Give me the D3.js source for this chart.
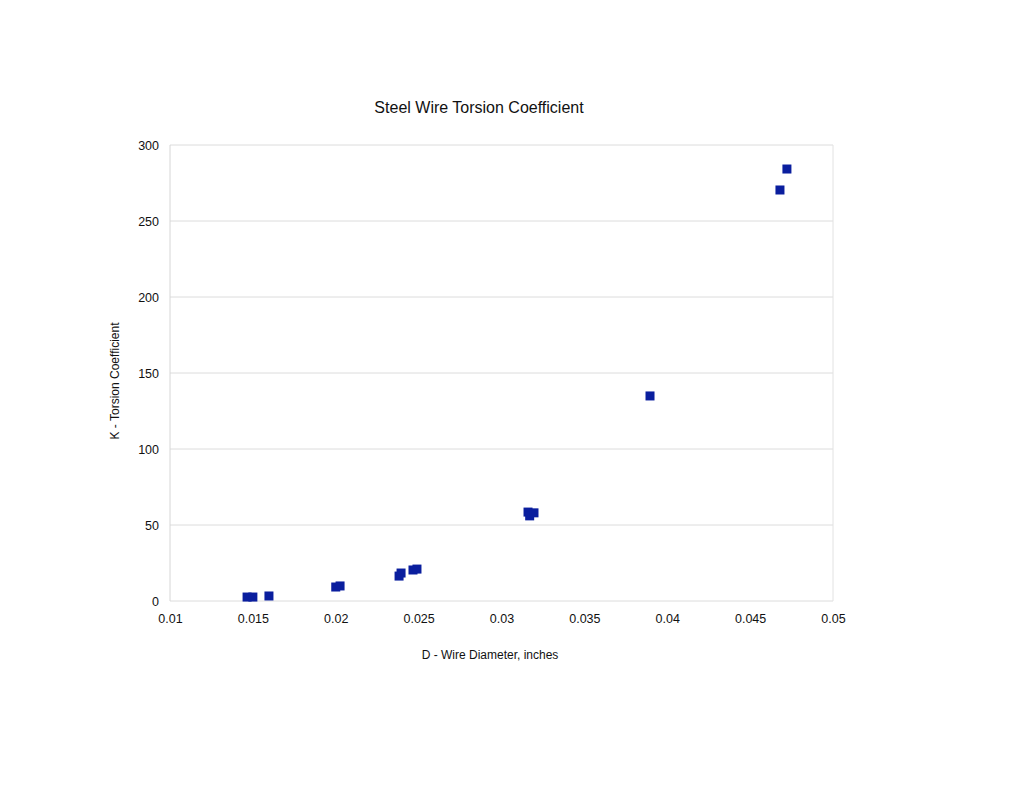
<!DOCTYPE html>
<html>
<head>
<meta charset="utf-8">
<script src="https://cdn.jsdelivr.net/npm/d3@7"></script>
<style>
  body { margin: 0; background: #fff; }
  text { font-family: "Liberation Sans", Arial, sans-serif; fill: #111; }
</style>
</head>
<body>
<div id="chart"></div>
<script>
// wire diameter (inches) and torsion coefficient readings
const diameters = [0.01465, 0.0150, 0.01597, 0.0200, 0.02026, 0.02382, 0.02394, 0.02466, 0.0249,
  0.0316, 0.0317, 0.03196, 0.03896, 0.0468, 0.04722];
const coefficients = [2.6, 2.6, 3.3, 9.2, 9.9, 16.4, 18.4, 20.4, 21,
  58.5, 56, 58, 134.9, 270.4, 284.2];
const xTicks = [0.01, 0.015, 0.02, 0.025, 0.03, 0.035, 0.04, 0.045, 0.05];
const yTicks = [0, 50, 100, 150, 200, 250, 300];

const width = 1024;
const height = 791;
const plot = { left: 170, right: 833, top: 145, bottom: 601 };
const markerSize = 9;

const svg = d3.select("#chart")
  .append("svg")
  .attr("width", width)
  .attr("height", height);

const x = d3.scaleLinear().domain([0.01, 0.05]).range([plot.left, plot.right]);
const y = d3.scaleLinear().domain([0, 300]).range([plot.bottom, plot.top]);

// gridlines
svg.append("g")
  .selectAll("line")
  .data(yTicks)
  .join("line")
  .attr("x1", plot.left)
  .attr("x2", plot.right)
  .attr("y1", (d) => y(d))
  .attr("y2", (d) => y(d))
  .attr("stroke", "#dcdcdc")
  .attr("stroke-width", 1);

// plot area sides
svg.append("line")
  .attr("x1", plot.left).attr("x2", plot.left)
  .attr("y1", plot.top).attr("y2", plot.bottom)
  .attr("stroke", "#d6d6d6");
svg.append("line")
  .attr("x1", plot.right).attr("x2", plot.right)
  .attr("y1", plot.top).attr("y2", plot.bottom)
  .attr("stroke", "#e2e2e2");

// axes (labels only, no domain)
const xAxis = svg.append("g")
  .attr("transform", `translate(0,${plot.bottom})`)
  .call(d3.axisBottom(x).tickValues(xTicks).tickSize(0).tickPadding(13).tickFormat(d3.format("")));
xAxis.select(".domain").remove();
xAxis.selectAll("text").style("font-size", "12.5px").attr("fill", "#111");

const yAxis = svg.append("g")
  .attr("transform", `translate(${plot.left},0)`)
  .call(d3.axisLeft(y).tickValues(yTicks).tickSize(0).tickPadding(11));
yAxis.select(".domain").remove();
yAxis.selectAll("text").style("font-size", "12.5px").attr("fill", "#111");

// points
svg.append("g")
  .selectAll("rect")
  .data(diameters.map((d, i) => ({ d, k: coefficients[i] })))
  .join("rect")
  .attr("x", (p) => x(p.d) - markerSize / 2)
  .attr("y", (p) => y(p.k) - markerSize / 2)
  .attr("width", markerSize)
  .attr("height", markerSize)
  .attr("fill", "#0a1e9e");

// titles
svg.append("text")
  .attr("x", 479)
  .attr("y", 113)
  .attr("text-anchor", "middle")
  .style("font-size", "16px")
  .text("Steel Wire Torsion Coefficient");

svg.append("text")
  .attr("x", 490)
  .attr("y", 659)
  .attr("text-anchor", "middle")
  .style("font-size", "12px")
  .text("D - Wire Diameter, inches");

svg.append("text")
  .attr("transform", "translate(119,381) rotate(-90)")
  .attr("text-anchor", "middle")
  .style("font-size", "12px")
  .text("K - Torsion Coefficient");
</script>
</body>
</html>
